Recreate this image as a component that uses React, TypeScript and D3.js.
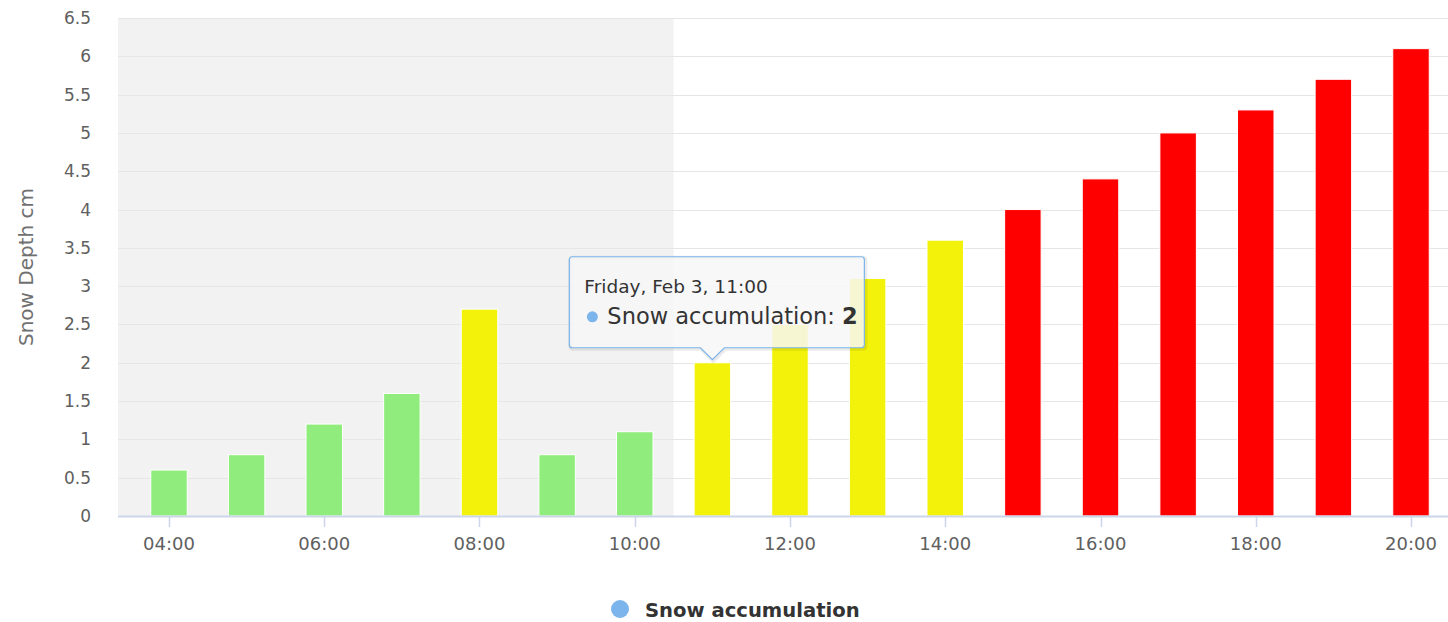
import { useRef, useEffect } from "react";
import * as d3 from "d3";

// hourly snow depth, Friday Feb 3
const hours = [4, 5, 6, 7, 8, 9, 10, 11, 12, 13, 14, 15, 16, 17, 18, 19, 20];
const depths = [0.6, 0.8, 1.2, 1.6, 2.7, 0.8, 1.1, 2, 2.5, 3.1, 3.6, 4, 4.4, 5, 5.3, 5.7, 6.1];
const levels = ["low", "low", "low", "low", "mid", "low", "low", "mid", "mid", "mid", "mid", "high", "high", "high", "high", "high", "high"];
const yTicks = [0, 0.5, 1, 1.5, 2, 2.5, 3, 3.5, 4, 4.5, 5, 5.5, 6, 6.5];
const xTicks = [4, 6, 8, 10, 12, 14, 16, 18, 20];
const pastUntil = 10.5;
const tooltipHour = 11;
const seriesName = "Snow accumulation";

const levelColor: Record<string, string> = { low: "#90ed7d", mid: "#f2f20a", high: "#ff0000" };

export default function App() {
  const svgRef = useRef<SVGSVGElement>(null);
  const width = 1448;
  const height = 622;

  useEffect(() => {
    if (!svgRef.current) return;
    const svg = d3.select(svgRef.current);
    svg.selectAll("*").remove();

    const margin = { top: 18, left: 118, bottom: 106 };
    const plotBottom = height - margin.bottom;
    const font = "'DejaVu Sans', sans-serif";

    const x = d3.scaleLinear().domain([3.343, 20.657]).range([margin.left, 1462]);
    const y = d3.scaleLinear().domain([0, 6.5]).range([plotBottom, margin.top]);
    const step = x(5) - x(4);
    const barW = step * 0.47;

    // grey band for past hours
    svg.append("rect")
      .attr("x", x(3.343)).attr("y", margin.top)
      .attr("width", x(pastUntil) - x(3.343)).attr("height", plotBottom - margin.top)
      .attr("fill", "#f2f2f2");

    // grid
    svg.append("g").selectAll("line").data(yTicks.slice(1)).enter().append("line")
      .attr("x1", margin.left).attr("x2", width)
      .attr("y1", (d) => Math.round(y(d)) + 0.5).attr("y2", (d) => Math.round(y(d)) + 0.5)
      .attr("stroke", "#e6e6e6").attr("stroke-width", 1);

    // y labels
    svg.append("g").selectAll("text").data(yTicks).enter().append("text")
      .attr("x", 91).attr("y", (d) => y(d) + 6)
      .attr("text-anchor", "end").attr("font-family", font).attr("font-size", 17)
      .attr("fill", "#606060").text((d) => String(d));

    svg.append("text")
      .attr("transform", `translate(33,${(plotBottom + margin.top) / 2}) rotate(-90)`)
      .attr("text-anchor", "middle").attr("font-family", font).attr("font-size", 20)
      .attr("fill", "#707070").text("Snow Depth cm");

    // bars
    svg.append("g").selectAll("rect").data(hours).enter().append("rect")
      .attr("x", (d) => x(d) - barW / 2).attr("width", barW)
      .attr("y", (_, i) => y(depths[i])).attr("height", (_, i) => plotBottom - y(depths[i]))
      .attr("fill", (_, i) => levelColor[levels[i]])
      .attr("stroke", "#ffffff").attr("stroke-width", 1);

    // x axis
    svg.append("line")
      .attr("x1", margin.left).attr("x2", width)
      .attr("y1", plotBottom + 0.5).attr("y2", plotBottom + 0.5)
      .attr("stroke", "#ccd6eb").attr("stroke-width", 2);
    const xg = svg.append("g");
    xg.selectAll("line").data(xTicks).enter().append("line")
      .attr("x1", (d) => Math.round(x(d)) + 0.5).attr("x2", (d) => Math.round(x(d)) + 0.5)
      .attr("y1", plotBottom).attr("y2", plotBottom + 11)
      .attr("stroke", "#ccd6eb").attr("stroke-width", 1.5);
    xg.selectAll("text").data(xTicks).enter().append("text")
      .attr("x", (d) => x(d)).attr("y", plotBottom + 34)
      .attr("text-anchor", "middle").attr("font-family", font).attr("font-size", 18)
      .attr("fill", "#606060").text((d) => `${String(d).padStart(2, "0")}:00`);

    // legend
    const legend = svg.append("g").attr("transform", "translate(620,609)");
    legend.append("circle").attr("r", 9).attr("fill", "#7cb5ec");
    legend.append("text").attr("x", 25).attr("y", 8)
      .attr("font-family", font).attr("font-size", 19.6).attr("font-weight", "bold")
      .attr("fill", "#333333").text(seriesName);

    // tooltip
    const ti = hours.indexOf(tooltipHour);
    const tipX = x(tooltipHour);
    const tipY = y(depths[ti]) - 3;
    const boxL = tipX - 143, boxR = tipX + 152, boxT = tipY - 103, boxB = tipY - 12;
    const r = 3;
    const path = `M${boxL + r},${boxT} H${boxR - r} Q${boxR},${boxT} ${boxR},${boxT + r} V${boxB - r} Q${boxR},${boxB} ${boxR - r},${boxB} H${tipX + 12} L${tipX},${tipY} L${tipX - 12},${boxB} H${boxL + r} Q${boxL},${boxB} ${boxL},${boxB - r} V${boxT + r} Q${boxL},${boxT} ${boxL + r},${boxT} Z`;
    const tip = svg.append("g");
    tip.append("path").attr("d", path).attr("transform", "translate(1,1)")
      .attr("fill", "none").attr("stroke", "rgba(0,0,0,0.08)").attr("stroke-width", 4);
    tip.append("path").attr("d", path)
      .attr("fill", "rgba(247,247,247,0.85)").attr("stroke", "#7cb5ec").attr("stroke-width", 1.2);
    tip.append("text").attr("x", boxL + 15).attr("y", boxT + 36)
      .attr("font-family", font).attr("font-size", 18.5).attr("fill", "#333333")
      .text(`Friday, Feb 3, ${tooltipHour}:00`);
    tip.append("circle").attr("cx", boxL + 23).attr("cy", boxT + 60).attr("r", 5.5).attr("fill", "#7cb5ec");
    const line2 = tip.append("text").attr("x", boxL + 38).attr("y", boxT + 67)
      .attr("font-family", font).attr("font-size", 22.5).attr("fill", "#333333");
    line2.append("tspan").text(`${seriesName}: `);
    line2.append("tspan").attr("font-weight", "bold").text(String(depths[ti]));
  }, []);

  return (
    <svg
      ref={svgRef}
      width={width}
      height={height}
      viewBox={`0 0 ${width} ${height}`}
      style={{ position: "absolute", left: 0, top: 0, display: "block", background: "#ffffff" }}
    />
  );
}
